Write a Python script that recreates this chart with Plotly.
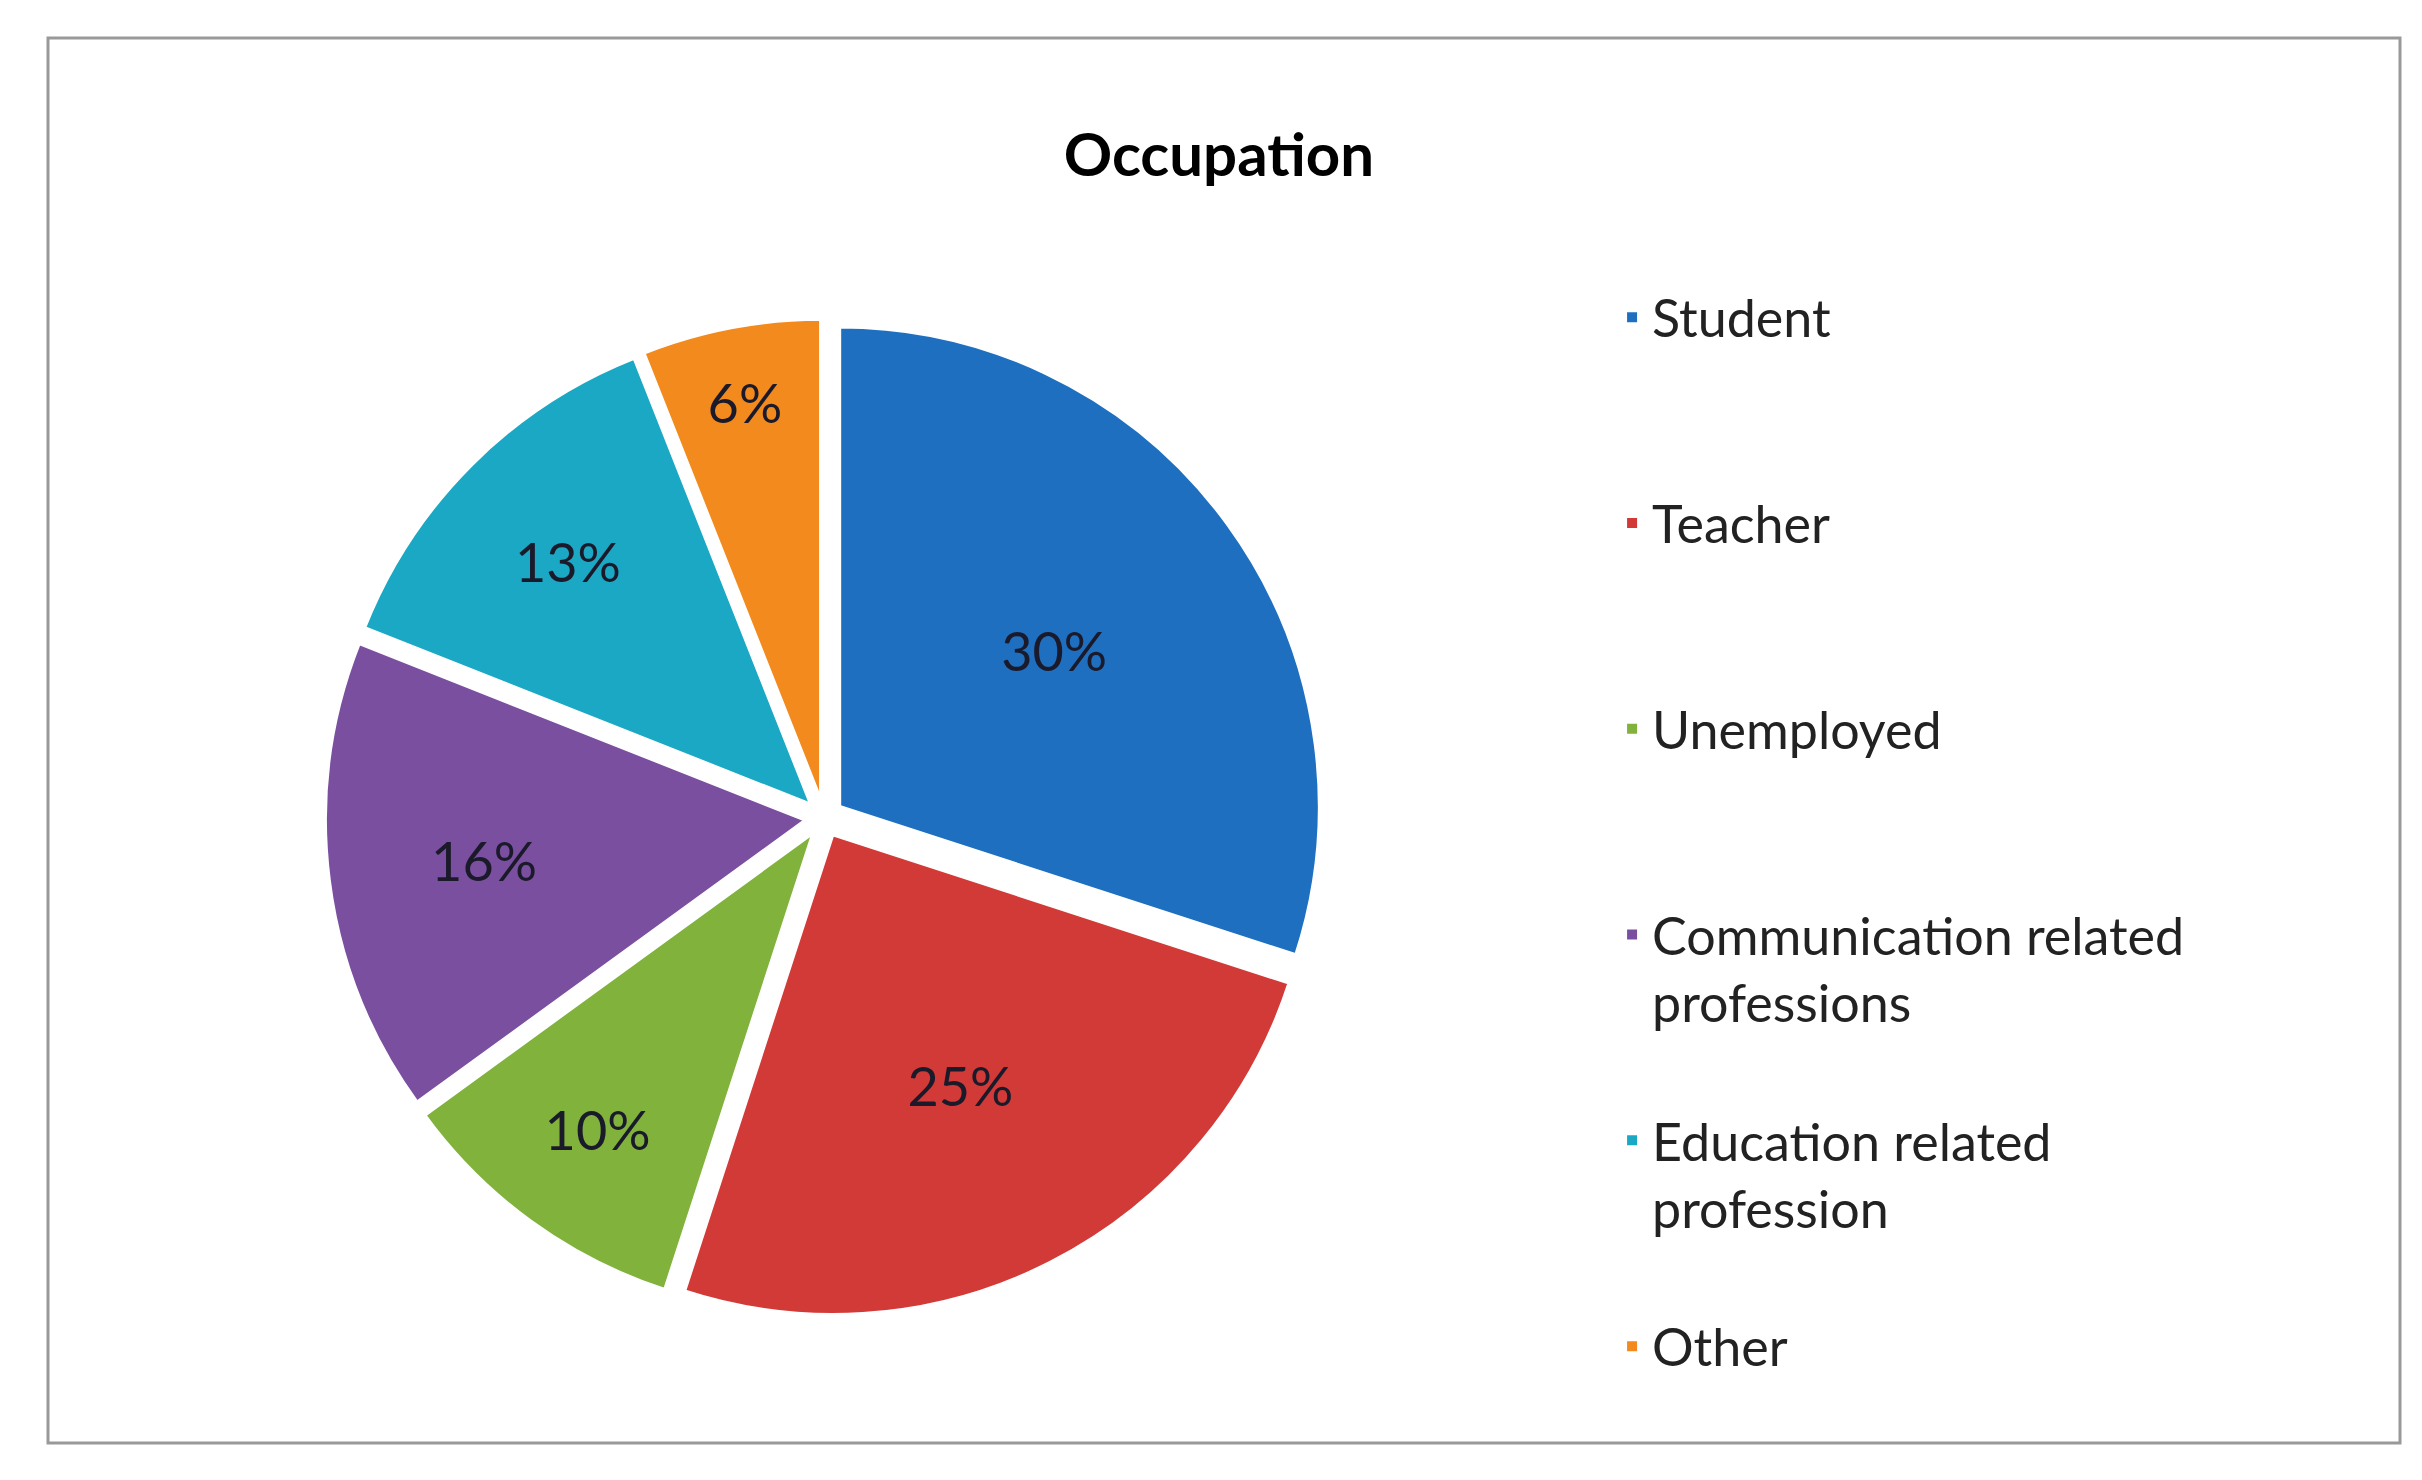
import plotly.graph_objects as go

categories = ["Student<br> <br> ", "Teacher<br> <br> ", "Unemployed<br> <br> ",
              "Communication related<br>professions<br> ",
              "Education related<br>profession<br> ", "Other"]
values = [30, 25, 10, 16, 13, 6]
colors = ["#1f6fc0", "#d23a37", "#80b23c", "#7b4fa0", "#1ba8c4", "#f28a1d"]

fig = go.Figure(go.Pie(
    labels=categories, values=values, sort=False, direction="clockwise", rotation=0,
    pull=[0.04] * 6,
    marker=dict(colors=colors, line=dict(color="white", width=3)),
    textinfo="percent", textposition="inside", insidetextorientation="horizontal",
    textfont=dict(size=54, family="Lato", color="#1a1a2a"),
    domain=dict(x=[0.11, 0.55], y=[0.09, 0.80]),
))
fig.update_layout(
    width=2422, height=1480, paper_bgcolor="white", plot_bgcolor="white",
    margin=dict(l=40, r=30, t=30, b=45),
    title=dict(text="<b>Occupation</b>", x=0.5, y=0.915, xanchor="center",
               font=dict(size=60, family="Lato", color="black")),
    legend=dict(x=0.665, y=0.83, xanchor="left", yanchor="top", valign="top",
                font=dict(size=52, family="Lato", color="#222"),
                itemsizing="constant"),
    shapes=[dict(type="rect", xref="paper", yref="paper", x0=0, y0=0, x1=1, y1=1,
                 line=dict(color="#999", width=3))],
)
fig.write_html("out.html")
